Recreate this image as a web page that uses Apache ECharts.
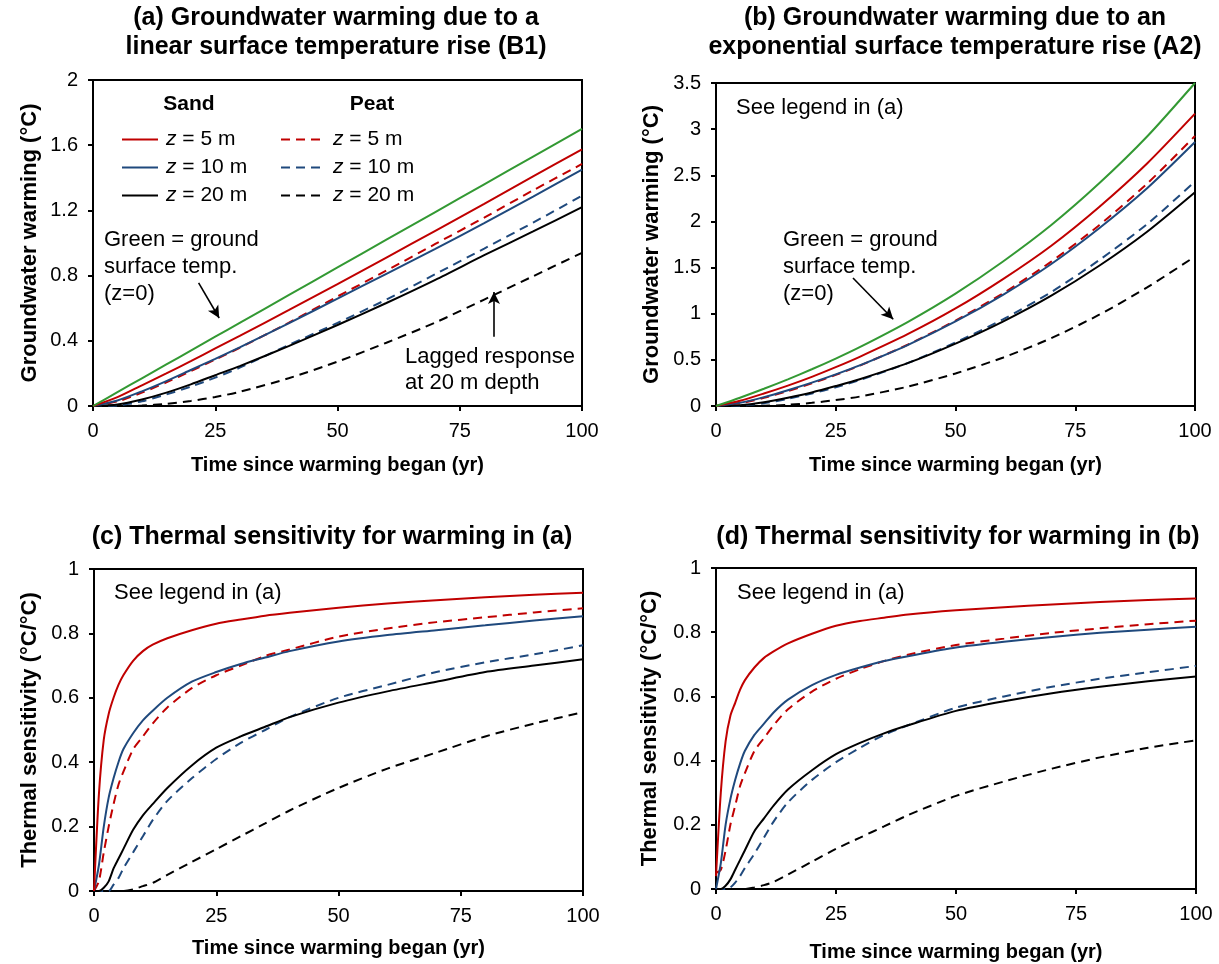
<!DOCTYPE html>
<html>
<head>
<meta charset="utf-8">
<script src="https://cdn.jsdelivr.net/npm/echarts@6/dist/echarts.min.js"></script>
<style>
html,body{margin:0;padding:0;background:#fff;}
#chart{width:1219px;height:964px;}
</style>
</head>
<body>
<div id="chart"></div>
<script>
// ---------------- DATA ----------------
const timeWarm = [0,5,10,15,20,25,30,40,50,60,70,80,90,100];
const timeSens = [0,1,2,3,4,5,6,8,10,12,15,20,25,30,35,40,50,60,70,80,90,100];
const xTicks = [0,25,50,75,100];
const yTicksA = [0,0.4,0.8,1.2,1.6,2];
const yTicksB = [0,0.5,1,1.5,2,2.5,3,3.5];
const yTicksS = [0,0.2,0.4,0.6,0.8,1];

// (a) linear rise (B1)
const aSurface = [0,0.085,0.17,0.255,0.34,0.425,0.51,0.68,0.85,1.02,1.19,1.36,1.53,1.70];
const aSand5   = [0,0.054,0.127,0.200,0.275,0.353,0.430,0.588,0.748,0.911,1.075,1.240,1.408,1.575];
const aSand10  = [0,0.034,0.090,0.153,0.221,0.289,0.360,0.507,0.659,0.811,0.964,1.122,1.285,1.45];
const aSand20  = [0,0.009,0.040,0.082,0.133,0.189,0.245,0.367,0.497,0.632,0.774,0.925,1.071,1.22];
const aPeat5   = [0,0.028,0.082,0.145,0.214,0.285,0.357,0.51,0.672,0.831,0.994,1.156,1.323,1.485];
const aPeat10  = [0,0.003,0.029,0.071,0.119,0.174,0.235,0.374,0.51,0.653,0.809,0.966,1.125,1.29];
const aPeat20  = [0,0,0.003,0.013,0.031,0.055,0.087,0.17,0.272,0.388,0.512,0.653,0.796,0.94];

// (b) exponential rise (A2)
const bSurface = [0,0.090,0.187,0.289,0.398,0.514,0.638,0.910,1.218,1.569,1.961,2.413,2.92,3.5];
const bSand5   = [0,0.056,0.135,0.221,0.316,0.421,0.533,0.778,1.057,1.378,1.737,2.157,2.628,3.168];
const bSand10  = [0,0.035,0.096,0.171,0.253,0.343,0.440,0.660,0.916,1.208,1.539,1.926,2.359,2.86];
const bSand20  = [0,0.008,0.041,0.090,0.147,0.216,0.290,0.464,0.676,0.918,1.196,1.520,1.889,2.317];
const bPeat5   = [0,0.029,0.088,0.162,0.245,0.337,0.437,0.664,0.926,1.224,1.565,1.959,2.409,2.926];
const bPeat10  = [0,0.004,0.030,0.078,0.135,0.203,0.281,0.464,0.688,0.941,1.235,1.581,1.971,2.433];
const bPeat20  = [0,0,0.002,0.013,0.034,0.064,0.102,0.209,0.353,0.526,0.735,0.989,1.285,1.62];

// (c) thermal sensitivity for (a)
const cSand5  = [0,0.30,0.47,0.55,0.60,0.64,0.67,0.715,0.745,0.765,0.785,0.81,0.83,0.843,0.855,0.864,0.88,0.893,0.903,0.912,0.92,0.926];
const cSand10 = [0,0.08,0.20,0.29,0.35,0.40,0.44,0.49,0.53,0.56,0.60,0.65,0.68,0.705,0.725,0.745,0.775,0.795,0.81,0.825,0.84,0.853];
const cSand20 = [0,0,0.01,0.03,0.07,0.10,0.13,0.19,0.235,0.27,0.32,0.39,0.445,0.48,0.51,0.54,0.585,0.62,0.65,0.68,0.70,0.72];
const cPeat5  = [0,0.03,0.12,0.20,0.27,0.33,0.37,0.44,0.48,0.52,0.57,0.63,0.67,0.70,0.73,0.75,0.79,0.815,0.835,0.85,0.865,0.878];
const cPeat10 = [0,0,0,0,0.02,0.04,0.07,0.12,0.17,0.22,0.28,0.35,0.41,0.46,0.50,0.54,0.60,0.64,0.68,0.71,0.735,0.763];
const cPeat20 = [0,0,0,0,0,0,0,0.005,0.015,0.025,0.05,0.09,0.13,0.17,0.21,0.25,0.32,0.38,0.43,0.48,0.52,0.555];

// (d) thermal sensitivity for (b)
const dSand5  = [0.04,0.30,0.46,0.54,0.58,0.62,0.65,0.69,0.72,0.74,0.765,0.795,0.82,0.835,0.845,0.855,0.868,0.878,0.886,0.894,0.90,0.905];
const dSand10 = [0,0.08,0.20,0.28,0.34,0.39,0.43,0.48,0.515,0.55,0.59,0.635,0.667,0.69,0.71,0.725,0.752,0.77,0.785,0.798,0.808,0.817];
const dSand20 = [0,0,0.01,0.03,0.06,0.09,0.12,0.18,0.22,0.26,0.31,0.37,0.42,0.455,0.485,0.51,0.555,0.585,0.61,0.63,0.647,0.662];
const dPeat5  = [0.05,0.06,0.12,0.20,0.26,0.32,0.36,0.43,0.47,0.51,0.56,0.615,0.655,0.685,0.71,0.73,0.76,0.78,0.798,0.812,0.825,0.836];
const dPeat10 = [0,0,0,0.005,0.02,0.04,0.065,0.11,0.16,0.21,0.27,0.34,0.395,0.44,0.48,0.51,0.565,0.60,0.63,0.655,0.675,0.695];
const dPeat20 = [0,0,0,0,0,0,0,0.005,0.012,0.022,0.045,0.085,0.125,0.16,0.195,0.23,0.29,0.335,0.375,0.41,0.44,0.463];

const sandNames = ['Sand, z = 5 m','Sand, z = 10 m','Sand, z = 20 m'];
const peatNames = ['Peat, z = 5 m','Peat, z = 10 m','Peat, z = 20 m'];
const surfaceName = 'Ground surface (z = 0)';

// ---------------- STYLE ----------------
const FONT = '"Liberation Sans", Arial, Helvetica, sans-serif';
const RED = '#C00000', BLUE = '#1F497D', BLACK = '#000000', GREEN = '#339933';
const DASH = [9, 6];

const chart = echarts.init(document.getElementById('chart'), null, {renderer: 'canvas'});

const grids = [
  {left: 93,  top: 80,  width: 489, height: 326},
  {left: 716, top: 83,  width: 479, height: 323},
  {left: 94,  top: 569, width: 489, height: 322},
  {left: 716, top: 568, width: 480, height: 321}
].map(g => Object.assign({show: true, borderColor: '#000', borderWidth: 2, backgroundColor: 'transparent', containLabel: false}, g));

function xAxis(gi, gap) {
  return {
    type: 'value', gridIndex: gi, min: xTicks[0], max: xTicks[xTicks.length - 1], interval: xTicks[1] - xTicks[0],
    name: 'Time since warming began (yr)', nameLocation: 'middle', nameGap: gap,
    nameTextStyle: {fontFamily: FONT, fontSize: 20, fontWeight: 'bold', color: '#000'},
    axisLine: {show: true, onZero: false, lineStyle: {color: '#000', width: 2}},
    axisTick: {show: true, inside: false, length: 5, lineStyle: {color: '#000', width: 2}},
    axisLabel: {fontFamily: FONT, fontSize: 20, color: '#000', margin: 15},
    splitLine: {show: false}
  };
}
function yAxis(gi, ticks, name, gap) {
  return {
    type: 'value', gridIndex: gi, min: ticks[0], max: ticks[ticks.length - 1], interval: ticks[1] - ticks[0],
    name: name, nameLocation: 'middle', nameGap: gap,
    nameTextStyle: {fontFamily: FONT, fontSize: 22, fontWeight: 'bold', color: '#000'},
    axisLine: {show: true, onZero: false, lineStyle: {color: '#000', width: 2}},
    axisTick: {show: true, inside: false, length: 5, lineStyle: {color: '#000', width: 2}},
    axisLabel: {fontFamily: FONT, fontSize: 20, color: '#000', margin: 15},
    splitLine: {show: false}
  };
}

function pairs(xs, ys) { return xs.map((x, i) => [x, ys[i]]); }

function line(name, gi, xs, ys, color, dashed, extra) {
  return Object.assign({
    type: 'line', name: name, xAxisIndex: gi, yAxisIndex: gi,
    data: pairs(xs, ys), showSymbol: false, symbol: 'none',
    smooth: 0.25, silent: true, animation: false,
    lineStyle: {color: color, width: 2, type: dashed ? DASH : 'solid'},
    itemStyle: {color: color}, z: 3
  }, extra || {});
}

function arrowLine(segments) {
  return {
    silent: true, symbol: ['none', 'arrow'], symbolSize: [9, 12], animation: false,
    label: {show: false},
    lineStyle: {color: '#000', width: 1.6, type: 'solid'},
    emphasis: {disabled: true},
    data: segments.map(s => [{coord: s[0]}, {coord: s[1]}])
  };
}

const panels = [
  {gi: 0, xs: timeWarm, surf: aSurface, s: [aSand5, aSand10, aSand20], p: [aPeat5, aPeat10, aPeat20],
   arrows: [[[21.6, 0.755], [25.8, 0.54]], [[82, 0.425], [82, 0.70]]]},
  {gi: 1, xs: timeWarm, surf: bSurface, s: [bSand5, bSand10, bSand20], p: [bPeat5, bPeat10, bPeat20],
   arrows: [[[28.6, 1.387], [37, 0.94]]]},
  {gi: 2, xs: timeSens, surf: null, s: [cSand5, cSand10, cSand20], p: [cPeat5, cPeat10, cPeat20]},
  {gi: 3, xs: timeSens, surf: null, s: [dSand5, dSand10, dSand20], p: [dPeat5, dPeat10, dPeat20]}
];
const colors = [RED, BLUE, BLACK];

const series = [];
panels.forEach(pn => {
  pn.p.slice().reverse().forEach((ys, k) => {
    const i = 2 - k;
    series.push(line(peatNames[i], pn.gi, pn.xs, ys, colors[i], true));
  });
  pn.s.slice().reverse().forEach((ys, k) => {
    const i = 2 - k;
    series.push(line(sandNames[i], pn.gi, pn.xs, ys, colors[i], false));
  });
  if (pn.surf) {
    series.push(line(surfaceName, pn.gi, pn.xs, pn.surf, GREEN, false, {markLine: arrowLine(pn.arrows)}));
  }
});

const legendRich = {
  i: {fontFamily: FONT, fontSize: 21, fontStyle: 'italic', color: '#000'},
  n: {fontFamily: FONT, fontSize: 21, color: '#000'}
};
function legendFmt(name) {
  const m = name.match(/z = (\d+ m)/);
  return '{i|z}{n| = ' + m[1] + '}';
}
function legend(names, left, w) {
  return {
    data: names, orient: 'vertical', left: left, top: 129, padding: 0,
    itemWidth: w, itemHeight: 16, itemGap: 7,
    selectedMode: false, formatter: legendFmt,
    itemStyle: {opacity: 0},
    textStyle: {fontFamily: FONT, fontSize: 21, color: '#000', rich: legendRich, padding: [0, 0, 0, 3]}
  };
}

function txt(x, y, text, opts) {
  return {
    type: 'text', x: x, y: y, silent: true, z: 100,
    style: Object.assign({text: text, fill: '#000', font: '22px ' + FONT, align: 'left', verticalAlign: 'top', lineHeight: 27}, opts || {})
  };
}

const TITLE_FONT = 'bold 25px ' + FONT;
const graphics = [
  txt(336, 4, '(a) Groundwater warming due to a\nlinear surface temperature rise (B1)', {font: TITLE_FONT, align: 'center', lineHeight: 29}),
  txt(955, 4, '(b) Groundwater warming due to an\nexponential surface temperature rise (A2)', {font: TITLE_FONT, align: 'center', lineHeight: 29}),
  txt(332, 523, '(c) Thermal sensitivity for warming in (a)', {font: TITLE_FONT, align: 'center', lineHeight: 29}),
  txt(958, 523, '(d) Thermal sensitivity for warming in (b)', {font: TITLE_FONT, align: 'center', lineHeight: 29}),
  txt(189, 91, 'Sand', {font: 'bold 21px ' + FONT, align: 'center'}),
  txt(372, 91, 'Peat', {font: 'bold 21px ' + FONT, align: 'center'}),
  txt(104, 226, 'Green = ground\nsurface temp.\n(z=0)'),
  txt(405, 344, 'Lagged response\nat 20 m depth', {lineHeight: 26}),
  txt(783, 226, 'Green = ground\nsurface temp.\n(z=0)'),
  txt(736, 94, 'See legend in (a)'),
  txt(114, 579, 'See legend in (a)'),
  txt(737, 579, 'See legend in (a)')
];

const option = {
  backgroundColor: '#fff',
  animation: false,
  textStyle: {fontFamily: FONT},
  grid: grids,
  xAxis: [xAxis(0, 49), xAxis(1, 49), xAxis(2, 47), xAxis(3, 53)],
  yAxis: [
    yAxis(0, yTicksA, 'Groundwater warming (°C)', 52),
    yAxis(1, yTicksB, 'Groundwater warming (°C)', 53),
    yAxis(2, yTicksS, 'Thermal sensitivity (°C/°C)', 53),
    yAxis(3, yTicksS, 'Thermal sensitivity (°C/°C)', 55)
  ],
  legend: [legend(sandNames, 121, 36), legend(peatNames, 280, 44)],
  series: series,
  graphic: graphics
};
chart.setOption(option);
</script>
</body>
</html>
